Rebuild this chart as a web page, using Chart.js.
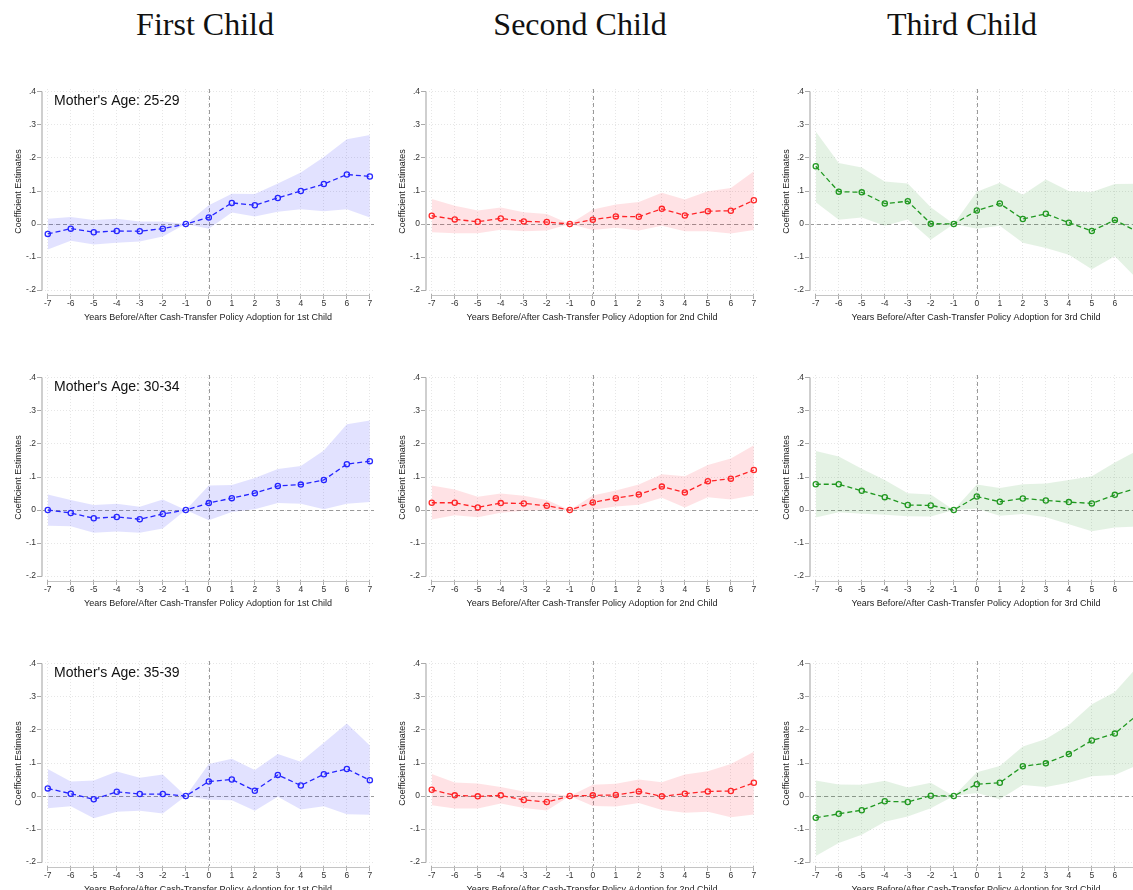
<!DOCTYPE html>
<html><head><meta charset="utf-8">
<script src="https://cdn.jsdelivr.net/npm/chart.js@4/dist/chart.umd.min.js"></script>
<style>
html,body{margin:0;padding:0;background:#fff;width:1133px;height:890px;overflow:hidden;position:relative}
.col-title{position:absolute;top:9px;line-height:31px;font-family:'Liberation Serif','DejaVu Serif',serif;font-size:32px;color:#111;transform:translateX(-50%);white-space:nowrap}
canvas{position:absolute}
</style></head><body>
<script>
// ---------- data ----------
const years = [-7,-6,-5,-4,-3,-2,-1,0,1,2,3,4,5,6,7];
const yTickValues = [-0.2,-0.1,0,0.1,0.2,0.3,0.4];
const columnTitles = ['First Child','Second Child','Third Child'];
const ageGroups = ["Mother's Age: 25-29","Mother's Age: 30-34","Mother's Age: 35-39"];
const xAxisTitles = [
  'Years Before/After Cash-Transfer Policy Adoption for 1st Child',
  'Years Before/After Cash-Transfer Policy Adoption for 2nd Child',
  'Years Before/After Cash-Transfer Policy Adoption for 3rd Child'
];
const yAxisTitle = 'Coefficient Estimates';

// Age 25-29
const coef_1st_2529 = [-0.030,-0.014,-0.025,-0.021,-0.022,-0.014,0,0.020,0.064,0.057,0.079,0.100,0.121,0.150,0.144];
const hi_1st_2529   = [0.016,0.021,0.012,0.016,0.008,0.008,0,0.057,0.092,0.091,0.123,0.156,0.203,0.257,0.270];
const lo_1st_2529   = [-0.077,-0.051,-0.062,-0.057,-0.053,-0.038,0,-0.014,0.035,0.023,0.037,0.045,0.039,0.045,0.020];
const coef_2nd_2529 = [0.025,0.014,0.007,0.017,0.008,0.006,0,0.013,0.023,0.022,0.046,0.026,0.039,0.040,0.072];
const hi_2nd_2529   = [0.076,0.055,0.041,0.050,0.036,0.030,0,0.044,0.059,0.067,0.095,0.074,0.099,0.109,0.160];
const lo_2nd_2529   = [-0.025,-0.028,-0.028,-0.017,-0.022,-0.020,0,-0.018,-0.011,-0.020,-0.005,-0.022,-0.022,-0.029,-0.018];
const coef_3rd_2529 = [0.175,0.098,0.096,0.062,0.069,0.001,0,0.041,0.062,0.015,0.031,0.004,-0.021,0.012,-0.024];
const hi_3rd_2529   = [0.280,0.185,0.171,0.129,0.123,0.051,0,0.098,0.125,0.089,0.135,0.100,0.097,0.121,0.122];
const lo_3rd_2529   = [0.066,0.013,0.020,-0.005,0.014,-0.048,0,-0.014,-0.005,-0.057,-0.073,-0.093,-0.137,-0.098,-0.169];
// Age 30-34
const coef_1st_3034 = [0.000,-0.009,-0.025,-0.021,-0.028,-0.012,0,0.021,0.036,0.051,0.073,0.077,0.091,0.139,0.148];
const hi_1st_3034   = [0.047,0.030,0.015,0.019,0.010,0.032,0,0.074,0.076,0.097,0.124,0.133,0.180,0.260,0.271];
const lo_1st_3034   = [-0.048,-0.049,-0.069,-0.065,-0.069,-0.056,0,-0.031,-0.006,0.002,0.021,0.019,0.002,0.019,0.024];
const coef_2nd_3034 = [0.022,0.022,0.008,0.021,0.020,0.013,0,0.023,0.036,0.047,0.071,0.053,0.087,0.095,0.121];
const hi_2nd_3034   = [0.074,0.062,0.040,0.050,0.043,0.030,0,0.044,0.059,0.077,0.108,0.102,0.136,0.156,0.196];
const lo_2nd_3034   = [-0.029,-0.016,-0.022,-0.008,-0.002,0.000,0,0.001,0.011,0.016,0.037,0.008,0.039,0.032,0.045];
const coef_3rd_3034 = [0.078,0.078,0.058,0.039,0.015,0.014,0,0.041,0.025,0.035,0.029,0.024,0.020,0.046,0.067];
const hi_3rd_3034   = [0.179,0.162,0.125,0.091,0.051,0.047,0,0.077,0.067,0.078,0.080,0.091,0.102,0.144,0.181];
const lo_3rd_3034   = [-0.023,-0.007,-0.011,-0.014,-0.019,-0.020,0,0.004,-0.017,-0.012,-0.022,-0.043,-0.064,-0.053,-0.050];
// Age 35-39
const coef_1st_3539 = [0.023,0.007,-0.010,0.013,0.006,0.006,0,0.044,0.050,0.016,0.064,0.032,0.066,0.082,0.048];
const hi_1st_3539   = [0.082,0.044,0.047,0.074,0.055,0.065,0,0.097,0.113,0.079,0.127,0.104,0.161,0.220,0.153];
const lo_1st_3539   = [-0.037,-0.031,-0.067,-0.048,-0.045,-0.053,0,-0.011,-0.013,-0.045,-0.002,-0.041,-0.031,-0.055,-0.057];
const coef_2nd_3539 = [0.019,0.002,-0.001,0.002,-0.012,-0.018,0,0.002,0.003,0.014,-0.001,0.007,0.014,0.015,0.040];
const hi_2nd_3539   = [0.067,0.041,0.038,0.027,0.014,0.010,0,0.034,0.037,0.050,0.042,0.065,0.075,0.097,0.134];
const lo_2nd_3539   = [-0.028,-0.038,-0.038,-0.023,-0.036,-0.044,0,-0.030,-0.032,-0.021,-0.042,-0.051,-0.048,-0.064,-0.056];
const coef_3rd_3539 = [-0.066,-0.054,-0.043,-0.016,-0.018,0.001,0,0.036,0.040,0.090,0.099,0.127,0.168,0.189,0.247];
const hi_3rd_3539   = [0.047,0.035,0.034,0.046,0.026,0.040,0,0.072,0.091,0.150,0.173,0.215,0.278,0.315,0.393];
const lo_3rd_3539   = [-0.182,-0.142,-0.117,-0.078,-0.062,-0.037,0,0.009,-0.010,0.033,0.027,0.040,0.060,0.064,0.094];

const panelSeries = [
  [[coef_1st_2529,hi_1st_2529,lo_1st_2529],[coef_2nd_2529,hi_2nd_2529,lo_2nd_2529],[coef_3rd_2529,hi_3rd_2529,lo_3rd_2529]],
  [[coef_1st_3034,hi_1st_3034,lo_1st_3034],[coef_2nd_3034,hi_2nd_3034,lo_2nd_3034],[coef_3rd_3034,hi_3rd_3034,lo_3rd_3034]],
  [[coef_1st_3539,hi_1st_3539,lo_1st_3539],[coef_2nd_3539,hi_2nd_3539,lo_2nd_3539],[coef_3rd_3539,hi_3rd_3539,lo_3rd_3539]]
];

// ---------- styles ----------
const lineColors = ['#2a2aff','#ff2a2a','#259b25'];
const bandColors = ['rgba(0,0,255,0.115)','rgba(255,0,30,0.115)','rgba(0,128,0,0.105)'];
const colLefts = [0, 384, 767.5];
const rowTops = [60, 345.5, 631.5];
const titleCenters = [205, 580, 962];
const CW = 383, CH = 285;
const FONT = "'Liberation Sans', Arial, sans-serif";

columnTitles.forEach((t,i)=>{
  const d=document.createElement('div'); d.className='col-title'; d.textContent=t;
  d.style.left=titleCenters[i]+'px'; document.body.appendChild(d);
});

const fmtY = v => { if (Math.abs(v) < 1e-9) return '0'; const s = v.toFixed(1); return s.replace('0.', '.'); };
const toPts = arr => arr.map((v,i)=>({x: years[i], y: v}));

const refPlugin = {
  id: 'refLines',
  beforeDatasetsDraw(chart) {
    const {ctx, chartArea: a, scales: {x, y}} = chart;
    ctx.save();
    ctx.strokeStyle = '#9a9a9a'; ctx.lineWidth = 1; ctx.setLineDash([4,3]);
    const y0 = Math.round(y.getPixelForValue(0)) + 0.5;
    ctx.beginPath(); ctx.moveTo(a.left, y0); ctx.lineTo(a.right, y0); ctx.stroke();
    const x0 = Math.round(x.getPixelForValue(0)) + 0.5;
    ctx.beginPath(); ctx.moveTo(x0, a.top); ctx.lineTo(x0, a.bottom); ctx.stroke();
    ctx.restore();
  },
  afterDraw(chart) {
    const {ctx, chartArea: a, scales: {x, y}} = chart;
    const o = chart.options.plugins.refLines || {};
    ctx.save();
    ctx.setLineDash([]);
    ctx.strokeStyle = '#cfcfcf'; ctx.lineWidth = 2;
    ctx.beginPath(); ctx.moveTo(a.left, y.getPixelForValue(yTickValues[yTickValues.length-1]));
    ctx.lineTo(a.left, y.getPixelForValue(yTickValues[0])); ctx.stroke();
    ctx.strokeStyle = '#c4c4c4'; ctx.lineWidth = 1;
    ctx.beginPath(); ctx.moveTo(x.getPixelForValue(years[0]), a.bottom + 1.5);
    ctx.lineTo(x.getPixelForValue(years[years.length-1]), a.bottom + 1.5); ctx.stroke();
    if (o.label) {
      ctx.fillStyle = '#111'; ctx.font = '14px ' + FONT;
      ctx.textBaseline = 'middle'; ctx.textAlign = 'left';
      ctx.fillText(o.label, a.left + 12, a.top + 12);
    }
    ctx.restore();
  }
};

for (let r = 0; r < 3; r++) {
  for (let c = 0; c < 3; c++) {
    const cv = document.createElement('canvas');
    cv.width = CW; cv.height = CH;
    cv.style.left = colLefts[c] + 'px'; cv.style.top = rowTops[r] + 'px';
    cv.style.width = CW + 'px'; cv.style.height = CH + 'px';
    document.body.appendChild(cv);
    const [coef, hi, lo] = panelSeries[r][c];
    new Chart(cv.getContext('2d'), {
      type: 'line',
      data: {
        datasets: [
          {data: toPts(hi), borderWidth: 0, pointRadius: 0, fill: '+1', backgroundColor: bandColors[c], tension: 0},
          {data: toPts(lo), borderWidth: 0, pointRadius: 0, fill: false, tension: 0},
          {data: toPts(coef), borderColor: lineColors[c], borderWidth: 1.3, borderDash: [5,3],
           pointStyle: 'circle', pointRadius: 2.6, pointBorderWidth: 1.3,
           pointBorderColor: lineColors[c], pointBackgroundColor: 'rgba(255,255,255,0)', fill: false, tension: 0}
        ]
      },
      options: {
        responsive: false, animation: false, devicePixelRatio: 1,
        layout: {padding: {top: 29, right: 9, bottom: 20, left: 0}},
        plugins: {legend: {display: false}, tooltip: {enabled: false},
                  refLines: {label: c === 0 ? ageGroups[r] : null}},
        scales: {
          x: {
            type: 'linear', min: -7.25, max: 7.18,
            afterBuildTicks: s => { s.ticks = years.map(v => ({value: v})); },
            afterFit: s => { s.height = 31; },
            ticks: {font: {family: FONT, size: 8.5}, color: '#333', padding: 0, maxRotation: 0,
                    callback: v => String(v)},
            grid: {color: '#e6e6e6', lineWidth: 1, drawTicks: true, tickLength: 5, tickColor: '#aaa', tickWidth: 1, tickBorderDash: []},
            border: {display: false, dash: [1,2]},
            title: {display: true, text: xAxisTitles[c], font: {family: FONT, size: 9}, color: '#222', padding: {top: 0, bottom: 2}}
          },
          y: {
            type: 'linear', min: -0.212, max: 0.409,
            afterBuildTicks: s => { s.ticks = yTickValues.map(v => ({value: v})); },
            afterFit: s => { s.width = 42; },
            ticks: {font: {family: FONT, size: 8.5}, color: '#333', padding: 1, callback: v => fmtY(v)},
            grid: {color: '#e6e6e6', lineWidth: 1, drawTicks: true, tickLength: 5, tickColor: '#aaa', tickWidth: 1, tickBorderDash: []},
            border: {display: false, dash: [1,2]},
            title: {display: true, text: yAxisTitle, font: {family: FONT, size: 9}, color: '#222', padding: {top: 13, bottom: 0}}
          }
        }
      },
      plugins: [refPlugin]
    });
  }
}
</script>
</body></html>
